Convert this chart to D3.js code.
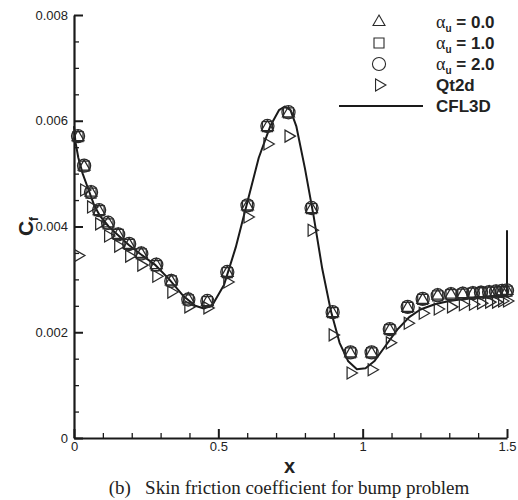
<!DOCTYPE html>
<html>
<head>
<meta charset="utf-8">
<script src="https://cdn.jsdelivr.net/npm/d3@7"></script>
<style>
  html, body { margin: 0; padding: 0; background: #fff; }
  svg { display: block; }
</style>
</head>
<body>
<svg id="chart" width="518" height="500"></svg>
<script>
// Axis ticks
const xTicks = [0, 0.5, 1, 1.5];
const xTickLabels = ["0", "0.5", "1", "1.5"];
const xMinorTicks = [0.1, 0.2, 0.3, 0.4, 0.6, 0.7, 0.8, 0.9, 1.1, 1.2, 1.3, 1.4];
const yTicks = [0, 0.002, 0.004, 0.006, 0.008];
const yTickLabels = ["0", "0.002", "0.004", "0.006", "0.008"];
const yMinorTicks = [0.0005, 0.001, 0.0015, 0.0025, 0.003, 0.0035, 0.0045, 0.005, 0.0055, 0.0065, 0.007, 0.0075];

// Surface stations shared by the computed series
const xs = [0.014, 0.035, 0.059, 0.087, 0.118, 0.153, 0.191, 0.233, 0.285, 0.337, 0.396, 0.462,
            0.531, 0.601, 0.670, 0.743, 0.823, 0.896, 0.958, 1.031, 1.094, 1.156, 1.208, 1.260,
            1.306, 1.347, 1.382, 1.410, 1.438, 1.462, 1.483, 1.500];

// Skin friction, alpha_u = 0.0 / 1.0 / 2.0
const cfAlpha0 = [0.00569, 0.00513, 0.00464, 0.00429, 0.00406, 0.00384, 0.00365, 0.00348, 0.00327, 0.00296, 0.00262, 0.00257,
                  0.00312, 0.00438, 0.00588, 0.00614, 0.00433, 0.00236, 0.00160, 0.00160, 0.00204, 0.00246, 0.00261, 0.00269,
                  0.00271, 0.00272, 0.00273, 0.00274, 0.00275, 0.00276, 0.00277, 0.00278];
const cfAlpha1 = [0.00570, 0.00514, 0.00463, 0.00430, 0.00405, 0.00385, 0.00366, 0.00348, 0.00326, 0.00297, 0.00261, 0.00258,
                  0.00313, 0.00439, 0.00589, 0.00615, 0.00434, 0.00237, 0.00161, 0.00161, 0.00205, 0.00247, 0.00262, 0.00269,
                  0.00271, 0.00272, 0.00274, 0.00275, 0.00276, 0.00276, 0.00277, 0.00278];
const cfAlpha2 = [0.00571, 0.00515, 0.00465, 0.00431, 0.00407, 0.00385, 0.00367, 0.00349, 0.00328, 0.00297, 0.00262, 0.00259,
                  0.00314, 0.00440, 0.00590, 0.00616, 0.00435, 0.00238, 0.00162, 0.00162, 0.00206, 0.00248, 0.00263, 0.00270,
                  0.00272, 0.00273, 0.00274, 0.00275, 0.00276, 0.00277, 0.00278, 0.00279];

// Qt2d
const cfQt2d = [0.00345, 0.00469, 0.00437, 0.00405, 0.00382, 0.00363, 0.00344, 0.00327, 0.00306, 0.00276, 0.00248, 0.00246,
                0.00295, 0.00418, 0.00556, 0.00571, 0.00393, 0.00195, 0.00123, 0.00129, 0.00180, 0.00217, 0.00236, 0.00244,
                0.00248, 0.00252, 0.00253, 0.00255, 0.00257, 0.00257, 0.00259, 0.00259];

// CFL3D reference curve
const cflX = [0.000, 0.005, 0.015, 0.030, 0.050, 0.070, 0.090, 0.120, 0.150, 0.190, 0.230, 0.280, 0.330, 0.380, 0.420,
              0.450, 0.480, 0.520, 0.560, 0.600, 0.640, 0.680, 0.710, 0.730, 0.750, 0.770, 0.800, 0.830, 0.860, 0.890,
              0.920, 0.950, 0.980, 1.010, 1.040, 1.080, 1.120, 1.160, 1.200, 1.250, 1.300, 1.350, 1.400, 1.450, 1.500, 1.500];
const cflCf = [0.00590, 0.00560, 0.00530, 0.00500, 0.00470, 0.00440, 0.00420, 0.00400, 0.00385, 0.00365, 0.00348, 0.00328,
               0.00300, 0.00268, 0.00250, 0.00245, 0.00252, 0.00290, 0.00360, 0.00445, 0.00530, 0.00590, 0.00620, 0.00627,
               0.00620, 0.00590, 0.00510, 0.00420, 0.00320, 0.00240, 0.00180, 0.00145, 0.00130, 0.00132, 0.00145, 0.00175,
               0.00205, 0.00228, 0.00243, 0.00253, 0.00259, 0.00263, 0.00266, 0.00268, 0.00270, 0.00393];

// Legend entries
const legendLabels = ["0.0", "1.0", "2.0", "Qt2d", "CFL3D"];

const svg = d3.select("#chart");
const ink = "#1a1a1a";
const markInk = "#2a2a2a";

const x = d3.scaleLinear().domain([0, 1.5]).range([74, 507]);
const y = d3.scaleLinear().domain([0, 0.008]).range([438, 15]);

const axisFont = "Liberation Sans, Arial, sans-serif";

// Minor ticks first, then major axes on top
svg.append("g").attr("transform", `translate(0,${y(0)})`)
  .call(d3.axisBottom(x).tickValues(xMinorTicks).tickSize(-5).tickSizeOuter(0).tickFormat(""))
  .call(g => g.select(".domain").remove())
  .call(g => g.selectAll("line").attr("stroke", ink).attr("stroke-width", 1.3));
svg.append("g").attr("transform", `translate(${x(0)},0)`)
  .call(d3.axisLeft(y).tickValues(yMinorTicks).tickSize(-5).tickSizeOuter(0).tickFormat(""))
  .call(g => g.select(".domain").remove())
  .call(g => g.selectAll("line").attr("stroke", ink).attr("stroke-width", 1.3));

const xAxis = svg.append("g").attr("transform", `translate(0,${y(0)})`)
  .call(d3.axisBottom(x).tickValues(xTicks).tickSize(-9).tickSizeOuter(0).tickPadding(4)
        .tickFormat((d, i) => xTickLabels[i]));
const yAxis = svg.append("g").attr("transform", `translate(${x(0)},0)`)
  .call(d3.axisLeft(y).tickValues(yTicks).tickSize(-9).tickSizeOuter(0).tickPadding(6)
        .tickFormat((d, i) => yTickLabels[i]));

[xAxis, yAxis].forEach(g => {
  g.select(".domain").attr("stroke", ink).attr("stroke-width", 2.2);
  g.selectAll(".tick line").attr("stroke", ink).attr("stroke-width", 2);
  g.selectAll(".tick text").attr("fill", "#222").attr("font-family", axisFont).attr("font-size", 13);
});

// CFL3D solid line
const line = d3.line().x(d => x(d[0])).y(d => y(d[1]));
svg.append("path")
  .datum(cflX.map((v, i) => [v, cflCf[i]]))
  .attr("d", line)
  .attr("fill", "none")
  .attr("stroke", ink)
  .attr("stroke-width", 2)
  .attr("stroke-linejoin", "round");

// Markers
const triUp = d3.symbol().type(d3.symbolTriangle).size(62);
const square = d3.symbol().type(d3.symbolSquare).size(100);
const circle = d3.symbol().type(d3.symbolCircle).size(135);
const triRight = d3.symbol().type(d3.symbolTriangle).size(62);

function drawMarks(vals, gen, rotate, cls) {
  svg.append("g").attr("class", cls)
    .selectAll("path")
    .data(vals.map((v, i) => [xs[i], v]))
    .join("path")
    .attr("d", gen)
    .attr("transform", d => `translate(${x(d[0])},${y(d[1])})${rotate ? " rotate(90)" : ""}`)
    .attr("fill", "none")
    .attr("stroke", markInk)
    .attr("stroke-width", 1.25);
}
drawMarks(cfQt2d, triRight, true, "qt2d");
drawMarks(cfAlpha0, triUp, false, "alpha0");
drawMarks(cfAlpha1, square, false, "alpha1");
drawMarks(cfAlpha2, circle, false, "alpha2");

// Legend
const legRows = [22, 43, 64, 85, 106];
const legSymX = 379;
const legTextX = 436;
const legGens = [triUp, square, circle, triRight];
legGens.forEach((gen, i) => {
  svg.append("path")
    .attr("d", gen)
    .attr("transform", `translate(${legSymX},${legRows[i]})${i === 3 ? " rotate(90)" : ""}`)
    .attr("fill", "none")
    .attr("stroke", markInk)
    .attr("stroke-width", 1.1);
});
svg.append("line")
  .attr("x1", 339).attr("x2", 423)
  .attr("y1", legRows[4]).attr("y2", legRows[4])
  .attr("stroke", ink).attr("stroke-width", 2);

legendLabels.forEach((lab, i) => {
  const t = svg.append("text")
    .attr("x", legTextX).attr("y", legRows[i] + 6)
    .attr("font-family", axisFont).attr("font-size", 17).attr("font-weight", "bold")
    .attr("fill", "#222");
  if (i < 3) {
    t.append("tspan").attr("font-family", "Liberation Serif, serif").attr("font-weight", "normal")
      .attr("font-size", 18).text("α");
    t.append("tspan").attr("font-size", 10).attr("dy", 4).text("u");
    t.append("tspan").attr("dy", -4).text(" = " + lab);
  } else {
    t.text(lab);
  }
});

// Axis titles
svg.append("text")
  .attr("x", x(0.75) - 1).attr("y", 473)
  .attr("text-anchor", "middle")
  .attr("font-family", axisFont).attr("font-size", 20).attr("font-weight", "bold")
  .attr("fill", "#222").text("x");

const yTitle = svg.append("text")
  .attr("transform", `translate(33,${y(0.004)}) rotate(-90)`)
  .attr("text-anchor", "middle")
  .attr("font-family", axisFont).attr("font-size", 21).attr("font-weight", "bold")
  .attr("fill", "#222");
yTitle.append("tspan").text("C");
yTitle.append("tspan").attr("font-size", 12).attr("dy", 5).text("f");

// Caption
svg.append("text")
  .attr("x", 289).attr("y", 494)
  .attr("text-anchor", "middle")
  .attr("font-family", "Liberation Serif, 'Times New Roman', serif").attr("font-size", 19)
  .attr("fill", "#222")
  .style("white-space", "pre")
  .text("(b)   Skin friction coefficient for bump problem");
</script>
</body>
</html>
